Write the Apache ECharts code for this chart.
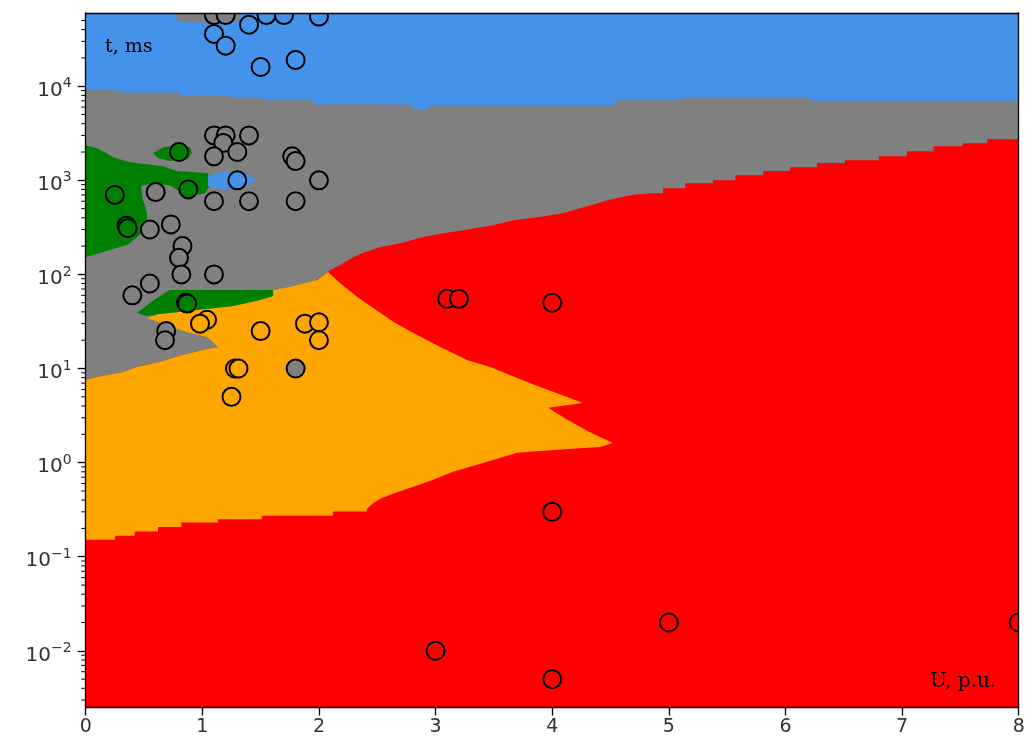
<!DOCTYPE html>
<html>
<head>
<meta charset="utf-8">
<script src="https://cdn.jsdelivr.net/npm/echarts@6/dist/echarts.min.js"></script>
<style>
  html, body { margin: 0; padding: 0; background: #ffffff; }
  #chart { width: 1034px; height: 747px; }
</style>
</head>
<body>
<div id="chart"></div>
<script>
// ---------------- axis ranges ----------------
const X_MIN = 0, X_MAX = 8;
const Y_MIN = 0.0025, Y_MAX = 60000;
const xTickValues = [0, 1, 2, 3, 4, 5, 6, 7, 8];
const minorMantissas = [2, 3, 4, 5, 6, 7, 8, 9];
const minorDecades = [-3, -2, -1, 0, 1, 2, 3, 4];

// ---------------- scatter points [U p.u., t ms] by class ----------------
const redPoints = [[3.1, 55], [3.2, 55], [4.0, 50], [4.0, 0.3], [3.0, 0.01], [4.0, 0.005], [5.0, 0.02], [8.0, 0.02]];
const orangePoints = [[1.04, 33], [0.98, 30], [1.5, 25], [1.88, 30], [2.0, 31], [2.0, 20], [1.28, 10], [1.31, 10], [1.25, 5]];
const grayPoints = [[1.1, 57000], [1.2, 57000], [1.1, 3000], [1.2, 3000], [1.4, 3000], [1.18, 2500], [1.1, 1800], [1.3, 2000],
  [1.77, 1800], [1.8, 1600], [2.0, 1000], [1.1, 600], [1.4, 600], [1.8, 600], [0.6, 750], [0.73, 340], [0.55, 300],
  [0.83, 200], [0.8, 150], [0.82, 100], [1.1, 100], [0.55, 80], [0.4, 60], [0.69, 25], [0.68, 20], [1.8, 10]];
const greenPoints = [[0.8, 2000], [0.88, 800], [0.25, 700], [0.35, 330], [0.36, 310], [0.86, 50], [0.87, 49]];
const bluePoints = [[1.4, 45000], [1.55, 57000], [1.7, 57000], [2.0, 55000], [1.1, 36000], [1.2, 27000], [1.5, 16000], [1.8, 19000], [1.3, 1000]];

// ---------------- decision regions (polygon vertices [U, t]) ----------------
const regionRed = [[0, 0.0025], [8, 0.0025], [8, 60000], [0, 60000]];
const regionGray = [[0, 60000], [8, 60000], [8, 2735], [7.73, 2735], [7.73, 2483], [7.52, 2483], [7.52, 2307], [7.27, 2307],
  [7.27, 2043], [7.04, 2043], [7.04, 1806], [6.80, 1806], [6.80, 1637], [6.51, 1637], [6.51, 1524], [6.27, 1524],
  [6.27, 1381], [6.04, 1381], [6.04, 1253], [5.81, 1253], [5.81, 1135], [5.57, 1135], [5.57, 1005], [5.38, 1005],
  [5.38, 933], [5.14, 933], [5.14, 826], [4.95, 826], [4.95, 731], [4.84, 731], [4.68, 697], [4.48, 617], [4.33, 545],
  [4.21, 494], [4.09, 448], [3.87, 406], [3.68, 378], [3.49, 334], [3.25, 296], [3.08, 275], [2.885, 249], [2.70, 215],
  [2.52, 195], [2.33, 161], [2.18, 126], [2.094, 111], [2.078, 106],
  [1.135, 16.9], [1.006, 15.7], [0.826, 13.9], [0.637, 11.7], [0.44, 10.4], [0.32, 9.2], [0.097, 8.15], [0, 7.57]];
const regionOrange = [[0, 7.57], [0.097, 8.15], [0.32, 9.2], [0.44, 10.4], [0.637, 11.7], [0.826, 13.9], [1.006, 15.7], [1.135, 16.9],
  [1.04, 21.6], [0.87, 24.4], [0.75, 27.5], [0.526, 34.4],
  [0.637, 38], [0.87, 40.8], [1.265, 46.2], [1.495, 53.5], [1.607, 59], [1.607, 68.2], [1.752, 73.4], [1.984, 87], [2.078, 106],
  [2.18, 81], [2.33, 57.5], [2.465, 44], [2.64, 31.3], [2.81, 23.9], [3.04, 16.9], [3.27, 12.3], [3.47, 10.4], [3.70, 7.94],
  [3.92, 6.22], [4.13, 4.99], [4.26, 4.31], [3.965, 3.82], [4.13, 2.85], [4.32, 2.12], [4.52, 1.62],
  [4.41, 1.47], [4.13, 1.40], [3.70, 1.27], [3.55, 1.12], [3.356, 0.95], [3.15, 0.80], [2.98, 0.656], [2.81, 0.553],
  [2.64, 0.47], [2.52, 0.41], [2.45, 0.36], [2.41, 0.32], [2.41, 0.303], [2.12, 0.303], [2.12, 0.272], [1.51, 0.272],
  [1.51, 0.251], [1.135, 0.251], [1.135, 0.231], [0.82, 0.231], [0.82, 0.207], [0.62, 0.207], [0.62, 0.186],
  [0.42, 0.186], [0.42, 0.167], [0.25, 0.167], [0.25, 0.152], [0, 0.152]];
const regionBlue = [[0, 60000], [8, 60000], [8, 7000], [6.21, 7000], [6.21, 7600], [5.1, 7600], [5.1, 7100], [4.54, 7100],
  [4.54, 6300], [2.94, 6300], [2.94, 5600], [2.8, 5600], [2.8, 6400], [1.95, 6400], [1.95, 7100], [1.52, 7100],
  [1.52, 7600], [1.24, 7600], [1.24, 8000], [0.81, 8000], [0.81, 8600], [0.27, 8600], [0.27, 9200], [0, 9200]];
const regionGrayTop = [[0.78, 60000], [1.32, 60000], [1.32, 48500], [1.1, 47000], [0.78, 48500]];
const regionGreenBig = [[0, 2366], [0.097, 2198], [0.166, 1992], [0.234, 1763], [0.38, 1560], [0.663, 1415], [0.783, 1253],
  [1.05, 1192], [1.057, 847], [1.023, 731], [0.895, 679], [0.809, 750], [0.723, 889], [0.551, 912], [0.474, 868],
  [0.491, 617], [0.526, 449], [0.526, 311], [0.44, 249], [0.354, 205], [0.123, 169], [0, 153]];
const regionGreenSmall = [[0.577, 1945], [0.663, 2250], [0.79, 2366], [0.895, 2250], [0.91, 1945], [0.877, 1679], [0.723, 1600], [0.62, 1722]];
const regionGreenStrip = [[0.44, 38.9], [0.55, 49.7], [0.637, 59], [0.72, 68.2], [1.607, 68.2], [1.607, 59], [1.495, 53.5],
  [1.265, 46.2], [0.87, 40.8], [0.637, 38], [0.526, 36.2]];
const regionBlueBlob = [[1.049, 1109], [1.195, 1253], [1.366, 1222], [1.461, 1005], [1.366, 847], [1.195, 787], [1.049, 868]];

// ---------------- colours ----------------
const C_RED = '#ff0000', C_ORANGE = '#ffa500', C_GRAY = '#808080', C_GREEN = '#008000', C_BLUE = '#4592ea';

const minorTickValues = [];
minorDecades.forEach(d => minorMantissas.forEach(m => {
  const v = m * Math.pow(10, d);
  if (v > Y_MIN && v < Y_MAX) minorTickValues.push(v);
}));

function regionSeries(name, pts, color) {
  return {
    type: 'custom', name: name, coordinateSystem: 'cartesian2d', xAxisIndex: 0, yAxisIndex: 0,
    clip: true, silent: true, z: 1, data: [pts[0]],
    renderItem: function (params, api) {
      return { type: 'polygon', shape: { points: pts.map(p => api.coord(p)) }, style: { fill: color } };
    }
  };
}
// scatter markers drawn as circles at the axis-mapped data positions, clipped to the plot like the original
function pointSeries(name, pts, color) {
  return {
    type: 'custom', name: name, coordinateSystem: 'cartesian2d', xAxisIndex: 0, yAxisIndex: 0,
    clip: true, z: 3, data: pts,
    renderItem: function (params, api) {
      const p = api.coord([api.value(0), api.value(1)]);
      return { type: 'circle', shape: { cx: p[0], cy: p[1], r: 9 },
        style: { fill: color, stroke: '#000', lineWidth: 2 } };
    }
  };
}

const supDigits = v => {
  const e = Math.round(Math.log10(v));
  return e < 0 ? '\u2212' + (-e) : String(e);
};

const chart = echarts.init(document.getElementById('chart'), null, { renderer: 'canvas' });
const axisLineStyle = { color: '#000', width: 1.3 };
const option = {
  animation: false,
  backgroundColor: '#ffffff',
  grid: { left: 85.7, right: 15.3, top: 13, bottom: 39.5, containLabel: false },
  xAxis: [
    {
      type: 'value', min: X_MIN, max: X_MAX, interval: 1, position: 'bottom', z: 10,
      axisLine: { show: true, onZero: false, lineStyle: axisLineStyle },
      axisTick: { show: true, length: 8, lineStyle: axisLineStyle },
      axisLabel: { fontSize: 19, fontFamily: 'DejaVu Sans', color: '#333', margin: 10,
        formatter: v => xTickValues.indexOf(v) >= 0 ? String(v) : '' },
      splitLine: { show: false }
    },
    {
      type: 'value', min: X_MIN, max: X_MAX, position: 'top', z: 10,
      axisLine: { show: true, onZero: false, lineStyle: axisLineStyle },
      axisTick: { show: false }, axisLabel: { show: false }, splitLine: { show: false }
    }
  ],
  yAxis: [
    {
      type: 'log', logBase: 10, min: Y_MIN, max: Y_MAX, position: 'left', z: 10,
      axisLine: { show: true, onZero: false, lineStyle: axisLineStyle },
      axisTick: { show: true, length: 8, lineStyle: axisLineStyle },
      axisLabel: {
        margin: 14, showMinLabel: false, showMaxLabel: false, padding: [5, 0, 0, 0],
        formatter: v => '{b|10}{s|' + supDigits(v) + '}',
        rich: {
          b: { fontSize: 20, fontFamily: 'DejaVu Sans', color: '#333', lineHeight: 24, verticalAlign: 'bottom' },
          s: { fontSize: 14, fontFamily: 'DejaVu Sans', color: '#333', lineHeight: 17, verticalAlign: 'top' }
        }
      },
      splitLine: { show: false }
    },
    {
      type: 'log', logBase: 10, min: Y_MIN, max: Y_MAX, position: 'right', z: 10,
      axisLine: { show: true, onZero: false, lineStyle: axisLineStyle },
      axisTick: { show: false }, axisLabel: { show: false }, splitLine: { show: false }
    }
  ],
  graphic: [
    { type: 'text', left: 105, top: 38, z: 20, silent: true,
      style: { text: 't, ms', fontFamily: 'DejaVu Serif', fontSize: 19, fill: '#000' } },
    { type: 'text', left: 930, top: 672, z: 20, silent: true,
      style: { text: 'U, p.u.', fontFamily: 'DejaVu Serif', fontSize: 20, fill: '#000' } }
  ],
  series: [
    regionSeries('red', regionRed, C_RED),
    regionSeries('gray', regionGray, C_GRAY),
    regionSeries('orange', regionOrange, C_ORANGE),
    regionSeries('blue', regionBlue, C_BLUE),
    regionSeries('grayTop', regionGrayTop, C_GRAY),
    regionSeries('greenBig', regionGreenBig, C_GREEN),
    regionSeries('greenSmall', regionGreenSmall, C_GREEN),
    regionSeries('greenStrip', regionGreenStrip, C_GREEN),
    regionSeries('blueBlob', regionBlueBlob, C_BLUE),
    pointSeries('red points', redPoints, C_RED),
    pointSeries('orange points', orangePoints, C_ORANGE),
    pointSeries('gray points', grayPoints, C_GRAY),
    pointSeries('green points', greenPoints, C_GREEN),
    pointSeries('blue points', bluePoints, C_BLUE),
    {
      type: 'custom', name: 'minor ticks', coordinateSystem: 'cartesian2d', xAxisIndex: 0, yAxisIndex: 0,
      clip: false, silent: true, z: 10,
      data: minorTickValues.map(v => [X_MIN, v]),
      renderItem: function (params, api) {
        const p = api.coord([api.value(0), api.value(1)]);
        return { type: 'line', shape: { x1: p[0], y1: p[1], x2: p[0] - 4.5, y2: p[1] },
          style: { stroke: '#000', lineWidth: 1 } };
      }
    }
  ]
};
chart.setOption(option);
</script>
</body>
</html>
